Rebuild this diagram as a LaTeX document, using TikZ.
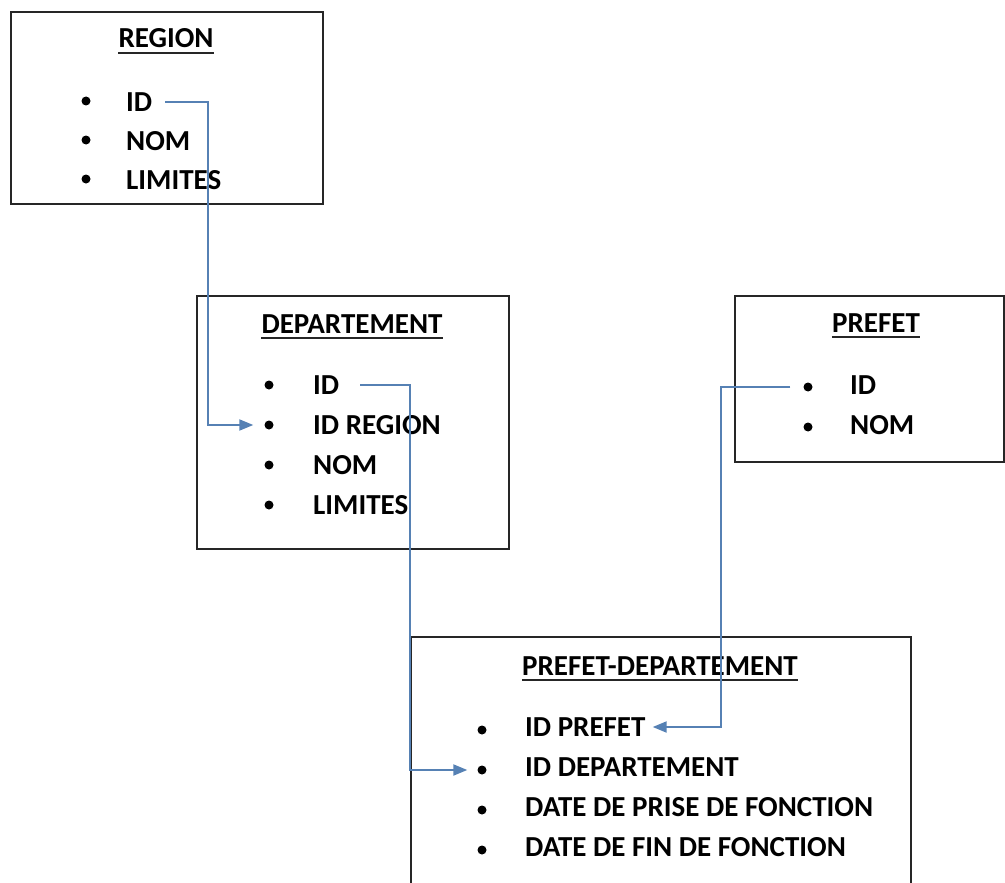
\documentclass[tikz,border=0pt]{standalone}
\usepackage{fontspec}
\setmainfont{Carlito}
\usepackage{xcolor}
\usepackage{tikz}
\usetikzlibrary{arrows.meta, positioning}
\definecolor{linkblue}{RGB}{79,129,189}

\begin{document}
\begin{tikzpicture}[
        x=1pt, y=-1pt,
        tbl/.style={rectangle, draw=black!85, line width=1.6pt, anchor=north west, inner sep=0pt},
        title/.style={anchor=base, inner sep=0pt, font=\bfseries\fontsize{29}{34}\selectfont},
        item/.style={anchor=west, inner sep=0pt, text height=19pt, text depth=0pt, font=\bfseries\fontsize{29}{34}\selectfont},
        dot/.style={circle, fill=black, inner sep=0pt, minimum size=9pt},
        uline/.style={line width=1.8pt, draw=black!85},
        link/.style={-{Triangle[length=14pt, width=11pt]}, line width=2pt, draw=linkblue!85!gray}
    ]
        \useasboundingbox (0,0) rectangle (1005,883);

        % Tables
        \node[tbl, minimum width=312pt, minimum height=192pt] (region) at (10,11) {};
        \node[tbl, minimum width=312pt, minimum height=253pt] (dept) at (196,295) {};
        \node[tbl, minimum width=269pt, minimum height=166pt] (prefet) at (734,295) {};
        \node[tbl, minimum width=500pt, minimum height=270pt] (pd) at (410,636) {};

        % Titles
        \node[title] (regiontitle) at (166,48) {REGION};
        \node[title] (depttitle) at (352,333) {DEPARTEMENT};
        \node[title] (prefettitle) at (876,332) {PREFET};
        \node[title] (pdtitle) at (660,675) {PREFET-DEPARTEMENT};
        \foreach \t in {regiontitle, depttitle, prefettitle, pdtitle}
            \draw[uline] ([yshift=-5pt]\t.base west) -- ([yshift=-5pt]\t.base east);

        % Fields
        \foreach \n/\t [count=\i from 0] in {id/ID, nom/NOM, lim/LIMITES} {
            \node[dot] (region-\n-b) at (86,{101+39*\i}) {};
            \node[item] (region-\n) at (126,{102+39*\i}) {\t};
        }
        \foreach \n/\t [count=\i from 0] in {id/ID, idreg/ID REGION, nom/NOM, lim/LIMITES} {
            \node[dot] (dept-\n-b) at (269,{385+40*\i}) {};
            \node[item] (dept-\n) at (313,{385+40*\i}) {\t};
        }
        \foreach \n/\t [count=\i from 0] in {id/ID, nom/NOM} {
            \node[dot] (prefet-\n-b) at (808,{387+40*\i}) {};
            \node[item] (prefet-\n) at (850,{385+40*\i}) {\t};
        }
        \foreach \n/\t [count=\i from 0] in {idpref/ID PREFET, iddep/ID DEPARTEMENT, debut/DATE DE PRISE DE FONCTION, fin/DATE DE FIN DE FONCTION} {
            \node[dot] (pd-\n-b) at (482,{730+40*\i}) {};
            \node[item] (pd-\n) at (525,{727+40*\i}) {\t};
        }

        % Keys
        \draw[link] ([xshift=13pt]region-id.east) -- ++(43,0) |- ([xshift=-11pt]dept-idreg-b.west);
        \draw[link] ([xshift=21pt]dept-id.east) -- ++(50,0) |- ([xshift=-10pt]pd-iddep-b.west);
        \draw[link] ([xshift=-13pt]prefet-id-b.west) -- ++(-69,0) |- ([xshift=7pt]pd-idpref.east);

    \end{tikzpicture}
\end{document}
